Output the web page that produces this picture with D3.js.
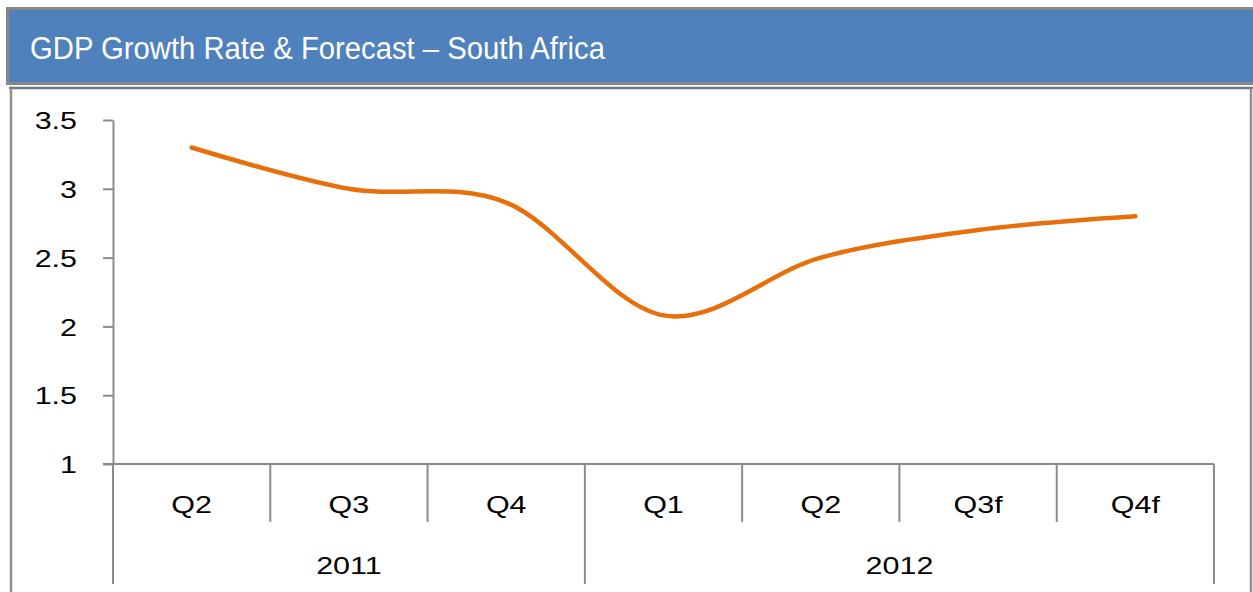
<!DOCTYPE html>
<html>
<head>
<meta charset="utf-8">
<script src="https://cdn.jsdelivr.net/npm/d3@7"></script>
<style>
  body { margin: 0; background: #fff; }
  svg { display: block; font-family: "Liberation Sans", Arial, sans-serif; }
</style>
</head>
<body>
<svg id="chart" width="1253" height="592"></svg>
<script>
// data
var quarters = ["Q2", "Q3", "Q4", "Q1", "Q2", "Q3f", "Q4f"];
var years = ["2011", "2012"];
var yearSpan = [3, 4]; // how many quarters fall under each year
var growth = [3.3, 3.0, 2.9, 2.08, 2.5, 2.7, 2.8];
var yTicks = [1, 1.5, 2, 2.5, 3, 3.5];
var title = "GDP Growth Rate & Forecast \u2013 South Africa";

var axisColor = "#8c8c8c";
var stretch = 1.27; // labels in the picture are a bit wide

var svg = d3.select("#chart");

// header band
svg.append("rect")
    .attr("x", 7.5).attr("y", 8.5)
    .attr("width", 1250).attr("height", 75)
    .attr("fill", "#4F81BD")
    .attr("stroke", "#878787")
    .attr("stroke-width", 3);

svg.append("text")
    .attr("x", 30).attr("y", 59)
    .attr("fill", "#fff")
    .style("font-size", "31px")
    .attr("textLength", 575)
    .attr("lengthAdjust", "spacingAndGlyphs")
    .text(title);

// frame under the header
svg.append("line")
    .attr("x1", 9).attr("x2", 1253)
    .attr("y1", 88).attr("y2", 88)
    .attr("stroke", "#6b7a8c").attr("stroke-width", 2.5);
svg.append("line")
    .attr("x1", 11).attr("x2", 11)
    .attr("y1", 88).attr("y2", 592)
    .attr("stroke", "#8f8f8f").attr("stroke-width", 2.5);
svg.append("line")
    .attr("x1", 1251).attr("x2", 1251)
    .attr("y1", 88).attr("y2", 592)
    .attr("stroke", "#8f8f8f").attr("stroke-width", 2.5);

// scales
var x = d3.scaleBand()
    .domain(d3.range(quarters.length))
    .range([113, 1214]);

var y = d3.scaleLinear()
    .domain([1, 3.5])
    .range([464, 120]);

// y axis
var yAxis = d3.axisLeft(y)
    .tickValues(yTicks)
    .tickSize(10)
    .tickSizeOuter(0)
    .tickPadding(26)
    .tickFormat(d3.format("~g"));

var gy = svg.append("g")
    .attr("transform", "translate(113,0)")
    .call(yAxis);

gy.select(".domain").attr("stroke", axisColor).attr("stroke-width", 2);
gy.selectAll(".tick line").attr("stroke", axisColor).attr("stroke-width", 2);
gy.selectAll(".tick text")
    .attr("fill", "#000")
    .style("font-size", "24px")
    .attr("font-family", null)
    .attr("x", -36 / stretch)
    .attr("dy", "0.36em")
    .attr("transform", "scale(" + stretch + ",1)");

// x axis line
svg.append("line")
    .attr("x1", 103).attr("x2", x.range()[1])
    .attr("y1", y(1)).attr("y2", y(1))
    .attr("stroke", axisColor).attr("stroke-width", 2);

// quarter separators
svg.selectAll(".qsep")
    .data(d3.range(quarters.length + 1))
    .join("line")
    .attr("class", "qsep")
    .attr("x1", function(d) { return d < quarters.length ? x(d) : x.range()[1]; })
    .attr("x2", function(d) { return d < quarters.length ? x(d) : x.range()[1]; })
    .attr("y1", y(1))
    .attr("y2", 522)
    .attr("stroke", axisColor).attr("stroke-width", 2);

// year separators go further down
var yearEdges = [0];
yearSpan.forEach(function(n, i) { yearEdges.push(yearEdges[i] + n); });

svg.selectAll(".ysep")
    .data(yearEdges)
    .join("line")
    .attr("class", "ysep")
    .attr("x1", function(d) { return x.range()[0] + d * x.bandwidth(); })
    .attr("x2", function(d) { return x.range()[0] + d * x.bandwidth(); })
    .attr("y1", 522)
    .attr("y2", 584)
    .attr("stroke", axisColor).attr("stroke-width", 2);

// quarter labels
svg.selectAll(".qlab")
    .data(quarters)
    .join("text")
    .attr("class", "qlab")
    .attr("text-anchor", "middle")
    .style("font-size", "24px")
    .attr("transform", function(d, i) {
        return "translate(" + (x(i) + x.bandwidth() / 2) + ",513) scale(" + stretch + ",1)";
    })
    .text(function(d) { return d; });

// year labels
svg.selectAll(".ylab")
    .data(years)
    .join("text")
    .attr("class", "ylab")
    .attr("text-anchor", "middle")
    .style("font-size", "24px")
    .attr("transform", function(d, i) {
        var mid = x.range()[0] + (yearEdges[i] + yearSpan[i] / 2) * x.bandwidth();
        return "translate(" + mid + ",574) scale(" + stretch + ",1)";
    })
    .text(function(d) { return d; });

// smoothed line, like the spreadsheet's
var line = d3.line()
    .x(function(d, i) { return x(i) + x.bandwidth() / 2; })
    .y(function(d) { return y(d); })
    .curve(d3.curveCardinal.tension(0));

svg.append("path")
    .datum(growth)
    .attr("fill", "none")
    .attr("stroke", "#E8700C")
    .attr("stroke-width", 4.5)
    .attr("stroke-linecap", "round")
    .attr("d", line);
</script>
</body>
</html>
